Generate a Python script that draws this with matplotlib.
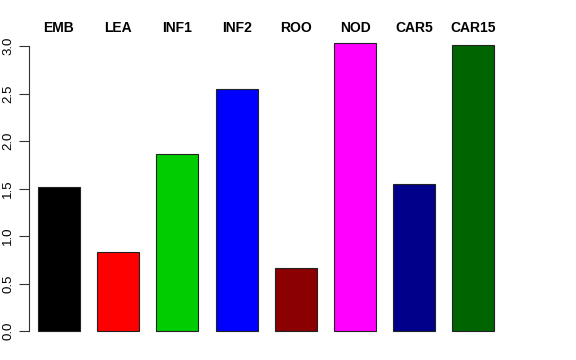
import matplotlib
matplotlib.use("Agg")
import matplotlib.pyplot as plt
import numpy as np

# tissues and their values
tissues = ["EMB", "LEA", "INF1", "INF2", "ROO", "NOD", "CAR5", "CAR15"]
values = [1.52, 0.83, 1.86, 2.55, 0.66, 3.03, 1.55, 3.01]
colors = ["#000000", "#FF0000", "#00CD00", "#0000FF", "#8B0000", "#FF00FF", "#00008B", "#006400"]
yticks = [0.0, 0.5, 1.0, 1.5, 2.0, 2.5, 3.0]

plt.rcParams["font.family"] = ["Liberation Sans", "DejaVu Sans"]

W, H = 576, 360
fig = plt.figure(figsize=(W / 100, H / 100), dpi=100)

# axes placed in pixels: left spine at x=29, y=0 at row 331, y=3 at row 46
px_left, px_right = 29, 520
px_top, px_bottom = 20, 340
ax = fig.add_axes([px_left / W, 1 - px_bottom / H, (px_right - px_left) / W, (px_bottom - px_top) / H])

step = 59.2
x0 = 59
xlim = ((px_left - x0) / step, (px_right - x0) / step)
unit = 95.0
ylim = (-(px_bottom - 331) / unit, 3 + (46 - px_top) / unit)

x = np.arange(len(tissues))
ax.bar(x, values, width=42 / step, color=colors, edgecolor="#222222", linewidth=0.8)

ax.set_xlim(*xlim)
ax.set_ylim(*ylim)

for s in ["top", "right", "bottom"]:
    ax.spines[s].set_visible(False)
ax.spines["left"].set_bounds(0, 3)
ax.spines["left"].set_linewidth(0.8)
ax.spines["left"].set_color("#333333")

ax.set_xticks([])
ax.set_yticks(yticks)
ax.set_yticklabels([f"{v:.1f}" for v in yticks], rotation=90, va="center", fontsize=9.5)
ax.tick_params(axis="y", length=7, width=0.8, pad=3.5, colors="#333333", labelcolor="black")

# tissue labels along the top
label_y = 3 + (46 - 28) / unit
for xi, name in zip(x, tissues):
    ax.text(xi, label_y, name, ha="center", va="center", fontsize=10, fontweight="bold")

fig.savefig("out.png", dpi=100)
